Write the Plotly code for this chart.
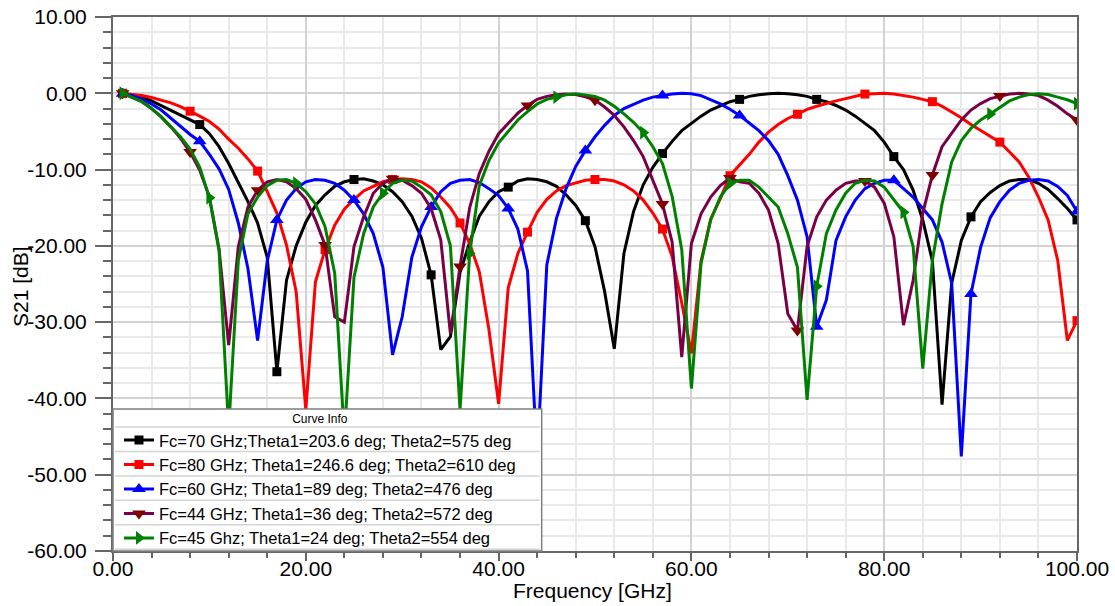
import plotly.graph_objects as go

# Frequency sweep (GHz), one sample per GHz
freq_ghz = list(range(1, 101))

# |S21| in dB for each filter design
s21_fc70 = [
    0.0, -0.25, -0.55, -1.0, -1.6, -2.2, -2.9, -3.5, -4.1, -5.3,
    -7.0, -9.2, -11.6, -14.2, -17.0, -21.5, -36.5, -24.5, -20.0, -16.9,
    -14.7, -13.3, -12.2, -11.6, -11.3, -11.2, -11.5, -12.0, -12.9, -14.2,
    -16.1, -19.0, -23.8, -33.6, -31.9, -23.5, -19.5, -16.1, -14.2, -12.9,
    -12.3, -11.5, -11.2, -11.3, -11.6, -12.2, -13.3, -14.7, -16.7, -20.1,
    -26.0, -33.5, -21.0, -15.5, -12.0, -9.7, -7.9, -6.3, -4.9, -3.9,
    -3.0, -2.2, -1.6, -1.1, -0.8, -0.4, -0.2, -0.05, 0.0, -0.05,
    -0.2, -0.4, -0.8, -1.1, -1.6, -2.2, -3.0, -3.9, -4.9, -6.4,
    -8.3, -10.0, -12.7, -16.6, -22.0, -40.8, -24.9, -19.3, -16.2, -14.2,
    -13.0, -12.1, -11.5, -11.3, -11.3, -11.8, -12.6, -13.8, -15.1, -16.6,
]
s21_fc80 = [
    -0.04, -0.14, -0.3, -0.55, -0.85, -1.25, -1.75, -2.35, -3.0, -3.7,
    -4.7, -6.0, -7.2, -8.6, -10.2, -12.9, -15.7, -19.9, -26.0, -41.5,
    -24.7, -20.5, -17.3, -15.2, -13.9, -12.8, -12.2, -11.6, -11.3, -11.2,
    -11.3, -11.6, -12.4, -13.6, -15.0, -17.0, -19.7, -23.4, -31.0, -40.7,
    -25.5, -21.0, -18.2, -15.6, -13.9, -12.8, -12.1, -11.7, -11.4, -11.3,
    -11.3, -11.5, -12.0, -12.8, -14.0, -15.7, -17.8, -21.4, -27.5, -34.1,
    -22.0, -16.5, -13.8, -10.8, -9.4, -8.0, -6.4, -5.1, -4.1, -3.3,
    -2.75, -2.1, -1.7, -1.3, -1.0, -0.7, -0.35, -0.1, -0.05, 0.0,
    -0.1, -0.3, -0.5, -0.8, -1.1, -1.7, -2.4, -3.2, -4.1, -4.9,
    -5.7, -6.4, -7.7, -9.0, -11.0, -13.6, -16.6, -21.9, -32.4, -29.8,
]
s21_fc60 = [
    -0.05, -0.3, -0.8, -1.4, -2.2, -3.3, -4.4, -5.4, -6.3, -8.0,
    -9.9, -12.6, -17.0, -23.0, -32.4, -22.0, -16.6, -14.0, -12.5, -11.6,
    -11.3, -11.4, -11.8, -12.7, -14.0, -15.8, -18.4, -22.8, -34.3, -29.3,
    -21.5, -17.5, -14.9, -12.9, -11.8, -11.4, -11.3, -11.7, -12.5, -13.4,
    -15.1, -17.8, -23.3, -48.0, -22.5, -16.4, -12.5, -9.6, -7.5, -5.7,
    -4.2, -2.9, -2.0, -1.4, -0.9, -0.5, -0.3, -0.1, 0.0, -0.05,
    -0.3, -0.8, -1.4, -2.1, -2.9, -3.9, -4.9, -6.2, -8.0, -10.8,
    -14.0, -18.8, -30.6, -27.1, -19.3, -16.2, -14.0, -12.5, -11.8, -11.4,
    -11.4, -12.5, -13.6, -15.1, -16.6, -19.5, -24.9, -47.6, -26.3, -20.2,
    -16.3, -14.2, -12.7, -11.8, -11.4, -11.3, -11.5, -12.2, -13.4, -15.5,
]
s21_fc44 = [
    0.0, -0.5, -1.1, -2.0, -3.1, -4.4, -5.9, -7.7, -10.1, -13.6,
    -20.4, -33.0, -20.1, -14.9, -12.7, -11.6, -11.3, -11.6, -12.5, -13.9,
    -16.6, -19.9, -29.3, -30.0, -20.1, -16.2, -13.1, -11.8, -11.2, -11.4,
    -12.1, -13.1, -15.1, -19.2, -31.5, -22.7, -15.0, -10.5, -7.6, -5.3,
    -3.9, -2.6, -1.6, -0.8, -0.4, -0.2, -0.1, -0.15, -0.45, -0.9,
    -1.8, -2.9, -4.4, -6.2, -8.3, -11.4, -14.5, -19.5, -34.6, -19.7,
    -15.8, -13.6, -12.1, -11.1, -11.6, -11.8, -13.1, -15.3, -19.7, -28.9,
    -31.1, -20.1, -16.2, -14.0, -12.7, -11.8, -11.5, -11.5, -12.3, -14.4,
    -18.8, -30.4, -24.5, -15.7, -10.7, -7.0, -5.3, -3.5, -2.2, -1.35,
    -0.7, -0.35, -0.1, 0.0, -0.1, -0.3, -0.9, -1.7, -2.7, -3.5,
]
s21_fc45 = [
    0.0, -0.5, -1.1, -2.0, -3.1, -4.4, -5.7, -7.3, -9.7, -13.7,
    -20.6, -44.0, -21.9, -15.8, -13.6, -12.1, -11.4, -11.3, -11.8, -12.9,
    -14.5, -17.5, -23.6, -45.0, -24.1, -18.4, -14.9, -13.1, -11.8, -11.4,
    -11.5, -12.3, -13.3, -15.5, -20.0, -41.5, -21.0, -12.1, -8.8, -6.5,
    -5.0, -3.5, -2.4, -1.4, -0.8, -0.5, -0.2, -0.05, -0.2, -0.4,
    -0.9, -1.7, -2.7, -3.8, -5.15, -7.0, -9.2, -13.5, -20.5, -38.7,
    -22.3, -16.6, -13.6, -11.8, -11.4, -11.4, -12.3, -13.6, -14.9, -18.4,
    -22.8, -40.2, -25.3, -18.4, -15.3, -13.1, -11.8, -11.4, -11.5, -12.3,
    -14.0, -15.6, -20.1, -36.1, -21.9, -14.5, -9.0, -6.2, -4.6, -3.5,
    -2.7, -1.9, -1.0, -0.5, -0.15, -0.05, -0.15, -0.5, -0.85, -1.35,
]

# Sweep points that carry a curve marker
marks_fc70 = [1, 9, 17, 25, 33, 41, 49, 57, 65, 73, 81, 89, 100]
marks_fc80 = [1, 8, 15, 22, 29, 36, 43, 50, 57, 64, 71, 78, 85, 92, 100]
marks_fc60 = [1, 9, 17, 25, 33, 41, 49, 57, 65, 73, 81, 89, 100]
marks_fc44 = [1, 8, 15, 22, 29, 36, 43, 50, 57, 64, 71, 78, 85, 92, 100]
marks_fc45 = [1, 10, 19, 28, 37, 46, 55, 64, 73, 82, 91, 100]

curve_names = [
    "Fc=70 GHz;Theta1=203.6 deg; Theta2=575 deg",
    "Fc=80 GHz; Theta1=246.6 deg; Theta2=610 deg",
    "Fc=60 GHz; Theta1=89 deg; Theta2=476 deg",
    "Fc=44 GHz; Theta1=36 deg; Theta2=572 deg",
    "Fc=45 Ghz; Theta1=24 deg; Theta2=554 deg",
]

x_tick_vals = [0, 20, 40, 60, 80, 100]
x_tick_text = ["0.00", "20.00", "40.00", "60.00", "80.00", "100.00"]
y_tick_vals = [-60, -50, -40, -30, -20, -10, 0, 10]
y_tick_text = ["-60.00", "-50.00", "-40.00", "-30.00", "-20.00", "-10.00", "0.00", "10.00"]

series = [s21_fc70, s21_fc80, s21_fc60, s21_fc44, s21_fc45]
marks = [marks_fc70, marks_fc80, marks_fc60, marks_fc44, marks_fc45]
line_colors = ["#000000", "#ff0000", "#0000ff", "#7a0046", "#008000"]
marker_colors = ["#000000", "#ff0000", "#0000ff", "#800000", "#008000"]
marker_symbols = ["square", "square", "triangle-up", "triangle-down", "triangle-right"]
marker_sizes = [9, 9, 12, 12, 12]

FONT = "Liberation Sans, Arial, sans-serif"
AXIS_GREY = "#666666"

fig = go.Figure()
for vals, mk, name, lc, mc, sym, sz in zip(series, marks, curve_names, line_colors,
                                          marker_colors, marker_symbols, marker_sizes):
    # markers only on the selected sweep points; the rest stay transparent
    point_colors = [mc if f in mk else "rgba(0,0,0,0)" for f in freq_ghz]
    fig.add_trace(go.Scatter(
        x=freq_ghz, y=vals, mode="lines+markers", name=name,
        line=dict(color=lc, width=3),
        marker=dict(symbol=sym, size=sz, color=point_colors, line=dict(width=0)),
    ))

axis_common = dict(
    ticks="outside", tickcolor=AXIS_GREY, tickwidth=1.5,
    showline=True, linecolor=AXIS_GREY, linewidth=2, mirror=True,
    showgrid=True, gridcolor="#d2d2d2", gridwidth=2, automargin=False,
    zeroline=False, tickfont=dict(size=21, color="black", family=FONT),
)

# "Curve Info" panel: white box with row separators, legend text drawn on top
PANEL_RIGHT = 0.4447
PANEL_TOP = 0.2659
ROW_EDGES = [0.2322, 0.1865, 0.1406, 0.0949, 0.0491, 0.0034]
panel_shapes = [
    dict(type="rect", xref="paper", yref="paper", x0=0, x1=PANEL_RIGHT, y0=0, y1=PANEL_TOP,
         fillcolor="white", line=dict(color="#7f7f7f", width=1.5), layer="above"),
]
for ry in ROW_EDGES:
    panel_shapes.append(dict(type="line", xref="paper", yref="paper", x0=0.002,
                             x1=PANEL_RIGHT - 0.002, y0=ry, y1=ry,
                             line=dict(color="#d4d4d4", width=1.5), layer="above"))

fig.update_layout(
    width=1115, height=606,
    margin=dict(l=113, r=38, t=17, b=55),
    paper_bgcolor="white", plot_bgcolor="white",
    font=dict(family=FONT, size=21, color="black"),
    xaxis=dict(
        range=[0, 100], tickmode="array", tickvals=x_tick_vals, ticktext=x_tick_text,
        ticklen=8, ticklabelstandoff=-10,
        minor=dict(tickmode="linear", tick0=0, dtick=4, ticks="outside", ticklen=5,
                   tickcolor=AXIS_GREY, tickwidth=1.5, showgrid=True,
                   gridcolor="#e9e9e9", gridwidth=2),
        **axis_common,
    ),
    yaxis=dict(
        range=[-60, 10], tickmode="array", tickvals=y_tick_vals, ticktext=y_tick_text,
        ticklen=16, ticklabelstandoff=4,
        minor=dict(tickmode="linear", tick0=0, dtick=2, ticks="outside", ticklen=8,
                   tickcolor=AXIS_GREY, tickwidth=1.5, showgrid=True,
                   gridcolor="#e9e9e9", gridwidth=2),
        **axis_common,
    ),
    legend=dict(
        x=0.0062, y=-0.008, xanchor="left", yanchor="bottom",
        bgcolor="rgba(0,0,0,0)", borderwidth=0,
        font=dict(size=16.5, family=FONT, color="black"),
        title=dict(text="Curve Info", side="top center", font=dict(size=12, family=FONT)),
        tracegroupgap=0,
    ),
    shapes=panel_shapes,
    annotations=[
        dict(text="Frequency [GHz]", xref="paper", yref="paper", x=0.5, y=0,
             xanchor="center", yanchor="middle", xshift=-3, yshift=-39,
             showarrow=False, font=dict(size=21, family=FONT, color="black")),
        dict(text="S21 [dB]", xref="paper", yref="paper", x=0, y=0.5,
             xanchor="center", yanchor="middle", xshift=-93, yshift=-3, textangle=-90,
             showarrow=False, font=dict(size=21, family=FONT, color="black")),
    ],
)

fig.write_html("out.html")
